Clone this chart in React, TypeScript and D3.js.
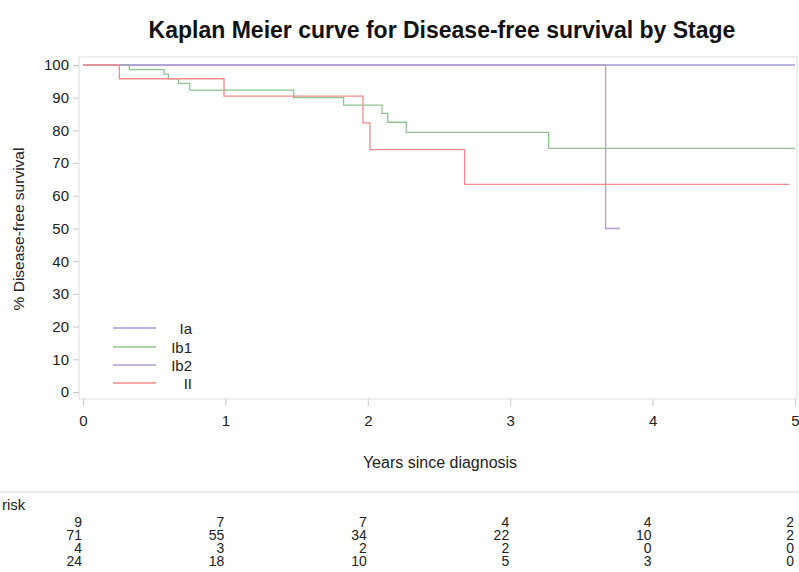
import React, { useRef, useEffect } from 'react';
import * as d3 from 'd3';

// survival curves (years, % disease-free)
const stages = ['Ia', 'Ib1', 'Ib2', 'II'];
const stageColors = ['#a19cd6', '#8fc48f', '#b39bd2', '#f28b8b'];

const iaTimes = [0, 5];
const iaSurv = [100, 100];
const ib1Times = [0, 0.325, 0.57, 0.6, 0.67, 0.75, 1.48, 1.83, 2.1, 2.14, 2.27, 3.27, 5];
const ib1Surv = [100, 98.6, 97.2, 95.8, 94.4, 92.3, 90.0, 87.7, 85.2, 82.5, 79.4, 74.5, 74.5];
const ib2Times = [0, 3.67, 3.77];
const ib2Surv = [100, 50, 50];
const iiTimes = [0, 0.255, 0.99, 1.966, 2.015, 2.68, 4.96];
const iiSurv = [100, 95.8, 90.5, 82.3, 74.1, 63.5, 63.5];

const xTicks = [0, 1, 2, 3, 4, 5];
const yTicks = [0, 10, 20, 30, 40, 50, 60, 70, 80, 90, 100];

// number at risk at each x tick
const riskIa = [9, 7, 7, 4, 4, 2];
const riskIb1 = [71, 55, 34, 22, 10, 2];
const riskIb2 = [4, 3, 2, 2, 0, 0];
const riskII = [24, 18, 10, 5, 3, 0];

const font = '"Liberation Sans", Arial, sans-serif';

const App = () => {
  const svgRef = useRef(null);

  useEffect(() => {
    const width = 799;
    const height = 572;
    const frame = { left: 79, right: 797, top: 57, bottom: 399 };

    const svg = d3.select(svgRef.current);
    svg.selectAll('*').remove();
    svg.attr('width', width).attr('height', height);

    const x = d3.scaleLinear().domain([0, 5]).range([83, 795]);
    const y = d3.scaleLinear().domain([0, 100]).range([392, 65]);

    // title
    svg.append('text')
      .attr('x', 442)
      .attr('y', 38)
      .attr('text-anchor', 'middle')
      .style('font-family', font)
      .style('font-weight', 'bold')
      .style('font-size', '23px')
      .attr('fill', '#111')
      .text('Kaplan Meier curve for Disease-free survival by Stage');

    // plot frame
    svg.append('rect')
      .attr('x', frame.left)
      .attr('y', frame.top)
      .attr('width', frame.right - frame.left)
      .attr('height', frame.bottom - frame.top)
      .attr('fill', 'none')
      .attr('stroke', '#dedede')
      .attr('stroke-width', 1);

    // y axis
    const yAxis = svg.append('g')
      .attr('transform', `translate(${frame.left},0)`)
      .call(d3.axisLeft(y).tickValues(yTicks).tickSize(6).tickPadding(4));
    yAxis.select('.domain').remove();
    yAxis.selectAll('line').attr('stroke', '#c8c8c8');
    yAxis.selectAll('text')
      .style('font-family', font)
      .style('font-size', '15px')
      .attr('fill', '#222');

    // x axis
    const xAxis = svg.append('g')
      .attr('transform', `translate(0,${frame.bottom})`)
      .call(d3.axisBottom(x).tickValues(xTicks).tickFormat(d3.format('d')).tickSize(7).tickPadding(9));
    xAxis.select('.domain').remove();
    xAxis.selectAll('line').attr('stroke', '#c8c8c8');
    xAxis.selectAll('text')
      .style('font-family', font)
      .style('font-size', '15px')
      .attr('fill', '#222');

    // axis labels
    svg.append('text')
      .attr('x', 440)
      .attr('y', 468)
      .attr('text-anchor', 'middle')
      .style('font-family', font)
      .style('font-size', '16px')
      .attr('fill', '#222')
      .text('Years since diagnosis');

    svg.append('text')
      .attr('transform', 'rotate(-90)')
      .attr('x', -229)
      .attr('y', 24)
      .attr('text-anchor', 'middle')
      .style('font-family', font)
      .style('font-size', '15.5px')
      .attr('fill', '#222')
      .text('% Disease-free survival');

    // curves
    const series = [
      { times: iaTimes, surv: iaSurv },
      { times: ib1Times, surv: ib1Surv },
      { times: ib2Times, surv: ib2Surv },
      { times: iiTimes, surv: iiSurv },
    ];

    const line = d3.line()
      .x(d => x(d[0]))
      .y(d => y(d[1]))
      .curve(d3.curveStepAfter);

    series.forEach((s, i) => {
      const pts = s.times.map((t, j) => [t, s.surv[j]]);
      svg.append('path')
        .datum(pts)
        .attr('fill', 'none')
        .attr('stroke', stageColors[i])
        .attr('stroke-width', 1.3)
        .attr('d', line);
    });

    // legend
    const legendY = [328, 347, 365, 383];
    stages.forEach((name, i) => {
      svg.append('line')
        .attr('x1', 113)
        .attr('x2', 156)
        .attr('y1', legendY[i])
        .attr('y2', legendY[i])
        .attr('stroke', stageColors[i])
        .attr('stroke-width', 1.5);
      svg.append('text')
        .attr('x', 192)
        .attr('y', legendY[i] + 5.5)
        .attr('text-anchor', 'end')
        .style('font-family', font)
        .style('font-size', '15px')
        .attr('fill', '#222')
        .text(name);
    });

    // risk table
    svg.append('line')
      .attr('x1', 0)
      .attr('x2', width)
      .attr('y1', 492)
      .attr('y2', 492)
      .attr('stroke', '#d6d6d6');

    svg.append('text')
      .attr('x', 2)
      .attr('y', 510)
      .style('font-family', font)
      .style('font-size', '15px')
      .attr('fill', '#222')
      .text('risk');

    const riskRows = [riskIa, riskIb1, riskIb2, riskII];
    const rowY = [527, 540, 553, 566];
    riskRows.forEach((row, r) => {
      row.forEach((n, k) => {
        svg.append('text')
          .attr('x', x(xTicks[k]) - 1)
          .attr('y', rowY[r])
          .attr('text-anchor', 'end')
          .style('font-family', font)
          .style('font-size', '14px')
          .attr('fill', '#222')
          .text(n);
      });
    });
  }, []);

  return (
    <svg
      ref={svgRef}
      style={{ position: 'absolute', left: 0, top: 0, background: '#fff' }}
    ></svg>
  );
};

export default App;
